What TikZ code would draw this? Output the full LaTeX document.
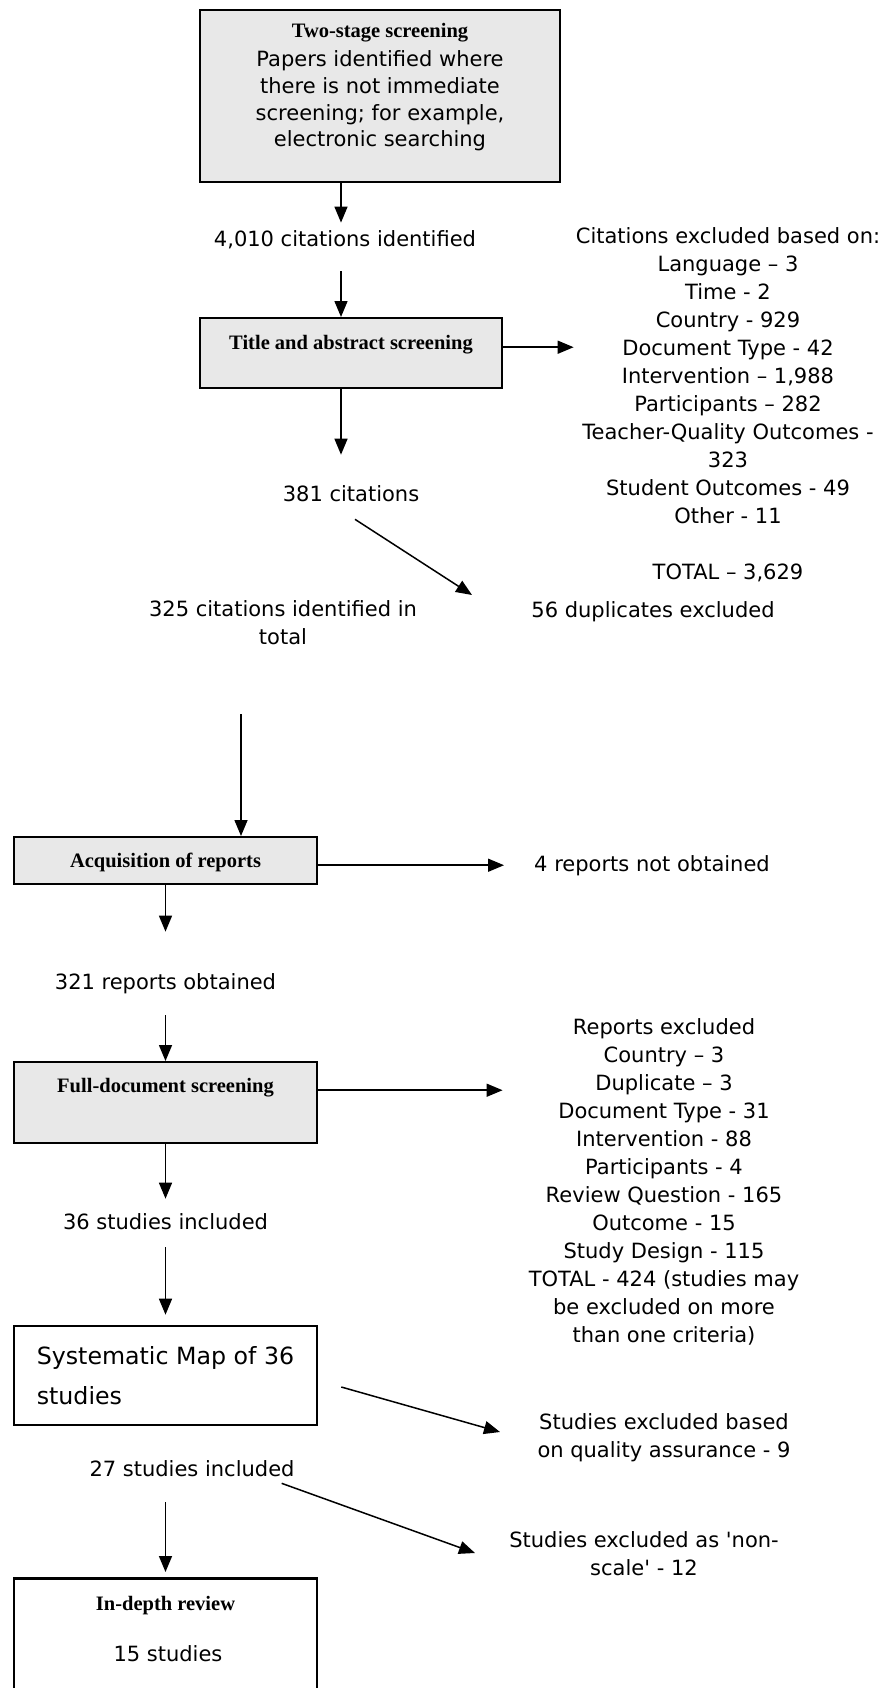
\documentclass[tikz,border=0pt]{standalone}
\usepackage{fontspec}
\setmainfont{DejaVu Sans}
\newfontfamily\headfont{Liberation Serif}
\usetikzlibrary{arrows.meta}
\definecolor{boxgrey}{RGB}{232,232,232}

\begin{document}
\begin{tikzpicture}[x=1pt, y=-1pt, >={Triangle[length=16pt,width=13pt]},
    greybox/.style={draw, line width=1.9pt, fill=boxgrey, inner sep=0pt, anchor=north,
        font=\headfont\bfseries\fontsize{20.5}{24}\selectfont},
    whitebox/.style={draw, line width=2.6pt, fill=white, inner sep=0pt},
    txt/.style={inner sep=0pt, align=center, font=\fontsize{21}{28}\selectfont},
    flow/.style={->, line width=1.5pt}]
    \useasboundingbox (0,0) rectangle (886,1688);

    \coordinate (colA) at (341,0);
    \coordinate (colB) at (241,0);

    \node[greybox, minimum width=360pt, text height=27.5pt, text depth=144pt] (stage) at (380,9.5) {Two-stage screening};
    \node[txt, font=\fontsize{21}{26.7}\selectfont] (stagebody) at (380,101) {Papers identified where\\there is not immediate\\screening; for example,\\electronic searching};
    \node[txt] (cit4010) at (345,240) {4,010 citations identified};
    \node[greybox, minimum width=302pt, text height=32pt, text depth=38pt] (titlebox) at (351,317) {Title and abstract screening};
    \node[txt] (citex) at (728,405) {Citations excluded based on:\\Language – 3\\Time - 2\\Country - 929\\Document Type - 42\\Intervention – 1,988\\Participants – 282\\Teacher-Quality Outcomes -\\323\\Student Outcomes - 49\\Other - 11\\[28pt]TOTAL – 3,629};
    \node[txt] (cit381) at (351,494) {381 citations};
    \coordinate (duptip) at (472,595);
    \node[txt] (cit325) at (283,623) {325 citations identified in\\total};
    \node[txt] (dup) at (653,612) {56 duplicates excluded};

    \node[greybox, minimum width=303pt, text height=31pt, text depth=16pt] (acqbox) at (165.5,836) {Acquisition of reports};
    \node[txt] (notobt) at (652,866) {4 reports not obtained};
    \node[txt] (rep321) at (165.5,984) {321 reports obtained};
    \node[greybox, minimum width=303pt, text height=31pt, text depth=50pt] (fullbox) at (165.5,1061) {Full-document screening};
    \node[txt] (repex) at (664,1182) {Reports excluded\\Country – 3\\Duplicate – 3\\Document Type - 31\\Intervention - 88\\Participants - 4\\Review Question - 165\\Outcome - 15\\Study Design - 115\\TOTAL - 424 (studies may\\be excluded on more\\than one criteria)};
    \node[txt] (stud36) at (165.5,1222) {36 studies included};

    \node[whitebox, minimum width=303pt, minimum height=99pt, align=left, font=\fontsize{23.7}{40}\selectfont] (mapbox) at (165.5,1375.5) {Systematic Map of 36\\studies};
    \coordinate (qatip) at (500,1432);
    \node[txt] (qa) at (664,1438) {Studies excluded based\\on quality assurance - 9};
    \node[txt] (stud27) at (192,1469) {27 studies included};
    \coordinate (scaletip) at (475,1553);
    \node[txt] (nonscale) at (644,1554) {Studies excluded as \textquotesingle non-\\scale\textquotesingle\ - 12};
    \node[greybox, fill=white, line width=2.6pt, minimum width=303pt, text height=32pt, text depth=91pt] (depthbox) at (165.5,1577) {In-depth review};
    \node[txt] (depthbody) at (168,1654) {15 studies};

    \draw[flow, shorten >=8pt] (stage.south -| colA) -- (cit4010.north -| colA);
    \draw[flow, shorten <=22pt] (cit4010.south -| colA) -- (titlebox.north -| colA);
    \draw[flow, shorten >=2pt] (titlebox.mid east) -- (titlebox.mid east -| citex.west);
    \draw[flow, shorten >=31pt] (titlebox.south -| colA) -- (cit381.north -| colA);
    \draw[flow] ([shift={(4,17)}]cit381.south) -- (duptip);
    \draw[flow, shorten <=69pt] (cit325.south -| colB) -- (acqbox.north -| colB);
    \draw[flow, shorten >=30pt] (acqbox.mid east) -- (acqbox.mid east -| notobt.west);
    \draw[flow, shorten >=42pt] (acqbox.south) -- (rep321.north);
    \draw[flow, shorten <=21pt] (rep321.south) -- (fullbox.north);
    \draw[flow, shorten >=26pt] (fullbox.mid east) -- (fullbox.mid east -| repex.west);
    \draw[flow, shorten >=15pt] (fullbox.south) -- (stud36.north);
    \draw[flow, shorten <=17pt, shorten >=10pt] (stud36.south) -- (mapbox.north);
    \draw[flow] ([shift={(23,11.5)}]mapbox.east) -- (qatip);
    \draw[flow] ([shift={(-13,6)}]stud27.south east) -- (scaletip);
    \draw[flow, shorten <=25pt, shorten >=5pt] (stud27.south -| depthbox.north) -- (depthbox.north);
\end{tikzpicture}
\end{document}
